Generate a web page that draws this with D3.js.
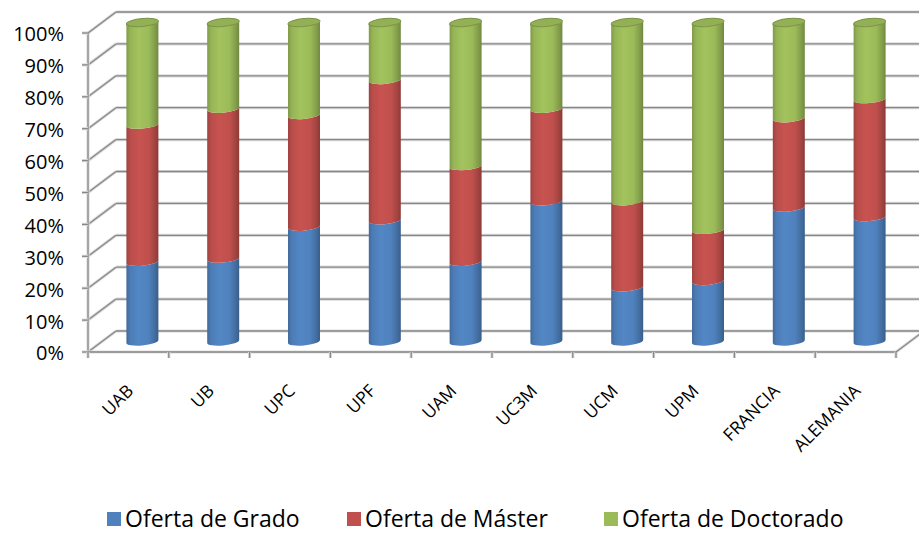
<!DOCTYPE html>
<html>
<head>
  <meta charset="utf-8">
  <title>Oferta por universidad</title>
  <style>
    body { margin: 0; background: #fff; }
    svg { display: block; font-family: "Open Sans", sans-serif; }
  </style>
</head>
<body>
<script src="https://d3js.org/d3.v7.min.js"></script>
<script>

  // data (percent of each university's offer)
  var categories = ['UAB', 'UB', 'UPC', 'UPF', 'UAM', 'UC3M', 'UCM', 'UPM', 'FRANCIA', 'ALEMANIA']
  var grado = [25, 26, 36, 38, 25, 44, 17, 19, 42, 39]
  var master = [43, 47, 35, 44, 30, 29, 27, 16, 28, 37]
  var doctorado = [32, 27, 29, 18, 45, 27, 56, 65, 30, 24]
  var seriesNames = ['Oferta de Grado', 'Oferta de Máster', 'Oferta de Doctorado']
  var seriesColors = ['#4f81bd', '#c0504d', '#9bbb59']
  var yTicks = [0, 0.1, 0.2, 0.3, 0.4, 0.5, 0.6, 0.7, 0.8, 0.9, 1]

  var width = 919, height = 534
  var depthX = 28, depthY = -21
  var barRx = 16, barRy = 4
  var legendX = [107, 347, 604]

  var rows = categories.map(function (c, i) {
    return {cat: c, 0: grado[i], 1: master[i], 2: doctorado[i]}
  })
  var stacked = d3.stack().keys([0, 1, 2]).offset(d3.stackOffsetExpand)(rows)

  var svg = d3.select('body').append('svg')
    .attr('width', width)
    .attr('height', height)

  var x = d3.scaleBand().domain(categories).range([88, 896])
  var xi = d3.scaleLinear().domain([0, categories.length]).range([88, 896])
  var y = d3.scaleLinear().domain([0, 1]).range([352, 33])

  // gradients for the cylinders
  var defs = svg.append('defs')
  seriesColors.forEach(function (col, k) {
    var base = d3.color(col)
    var grad = defs.append('linearGradient')
      .attr('id', 'cyl' + k)
      .attr('x1', '0%').attr('x2', '100%')
    grad.append('stop').attr('offset', '0%').attr('stop-color', base.darker(0.55))
    grad.append('stop').attr('offset', '12%').attr('stop-color', base.darker(0.1))
    grad.append('stop').attr('offset', '38%').attr('stop-color', base.brighter(0.12))
    grad.append('stop').attr('offset', '70%').attr('stop-color', base)
    grad.append('stop').attr('offset', '90%').attr('stop-color', base.darker(0.5))
    grad.append('stop').attr('offset', '100%').attr('stop-color', base.darker(0.9))
  })

  function gridLine(g, x1, y1, x2, y2) {
    g.append('line')
      .attr('x1', x1).attr('y1', y1).attr('x2', x2).attr('y2', y2)
      .attr('stroke', '#dcdcdc').attr('stroke-width', 3.2)
    g.append('line')
      .attr('x1', x1).attr('y1', y1).attr('x2', x2).attr('y2', y2)
      .attr('stroke', '#878787').attr('stroke-width', 1.3)
  }

  var grid = svg.append('g')
  yTicks.forEach(function (v) {
    var yf = y(v), yb = yf + depthY
    gridLine(grid, x.range()[0], yf, x.range()[0] + depthX, yb)
    gridLine(grid, x.range()[0] + depthX, yb, x.range()[1] + depthX, yb)
  })

  // axes
  var axes = svg.append('g')
  gridLine(axes, x.range()[0], y(1), x.range()[0], y(0))
  gridLine(axes, x.range()[0], y(0), x.range()[1], y(0))
  gridLine(axes, x.range()[1], y(0), x.range()[1] + depthX, y(0) + depthY)
  yTicks.forEach(function (v) {
    gridLine(axes, x.range()[0] - 6, y(v), x.range()[0], y(v))
  })
  d3.range(categories.length + 1).forEach(function (k) {
    gridLine(axes, xi(k), y(0), xi(k), y(0) + 6)
  })

  svg.append('g').selectAll('text')
    .data(yTicks)
    .join('text')
    .attr('x', 64)
    .attr('y', function (d) { return y(d) })
    .attr('dy', '0.42em')
    .attr('text-anchor', 'end')
    .attr('font-size', 20)
    .attr('fill', '#000')
    .text(d3.format('.0%'))

  svg.append('g').selectAll('text')
    .data(categories)
    .join('text')
    .attr('transform', function (d) {
      return 'translate(' + (x(d) + x.bandwidth() / 2 + 6) + ',392) rotate(-45)'
    })
    .attr('text-anchor', 'end')
    .attr('font-size', 17.5)
    .attr('fill', '#000')
    .text(function (d) { return d })

  // cylinders
  var bars = svg.append('g').selectAll('g')
    .data(categories)
    .join('g')
    .attr('transform', function (d) {
      return 'translate(' + (x(d) + x.bandwidth() / 2 + depthX / 2) + ',0) skewY(-5)'
    })

  bars.each(function (cat, i) {
    var g = d3.select(this)
    stacked.forEach(function (layer, k) {
      var seg = layer[i]
      var yt = y(seg[1]) + depthY / 2
      var yb = y(seg[0]) + depthY / 2
      g.append('path')
        .attr('d', 'M' + (-barRx) + ',' + yt +
          'A' + barRx + ',' + barRy + ' 0 0 0 ' + barRx + ',' + yt +
          'L' + barRx + ',' + yb +
          'A' + barRx + ',' + barRy + ' 0 0 1 ' + (-barRx) + ',' + yb + 'Z')
        .attr('fill', 'url(#cyl' + k + ')')
      if (k === stacked.length - 1) {
        g.append('ellipse')
          .attr('cx', 0).attr('cy', yt)
          .attr('rx', barRx).attr('ry', barRy)
          .attr('fill', d3.color(seriesColors[k]).darker(0.15))
          .attr('stroke', d3.color(seriesColors[k]).darker(0.7))
          .attr('stroke-width', 1)
      }
    })
  })

  // legend
  var legend = svg.append('g')
  seriesNames.forEach(function (name, k) {
    legend.append('rect')
      .attr('x', legendX[k]).attr('y', 512)
      .attr('width', 14).attr('height', 14)
      .attr('fill', seriesColors[k])
    legend.append('text')
      .attr('x', legendX[k] + 18).attr('y', 527)
      .attr('font-size', 23)
      .attr('fill', '#000')
      .text(name)
  })

</script>
</body>
</html>
